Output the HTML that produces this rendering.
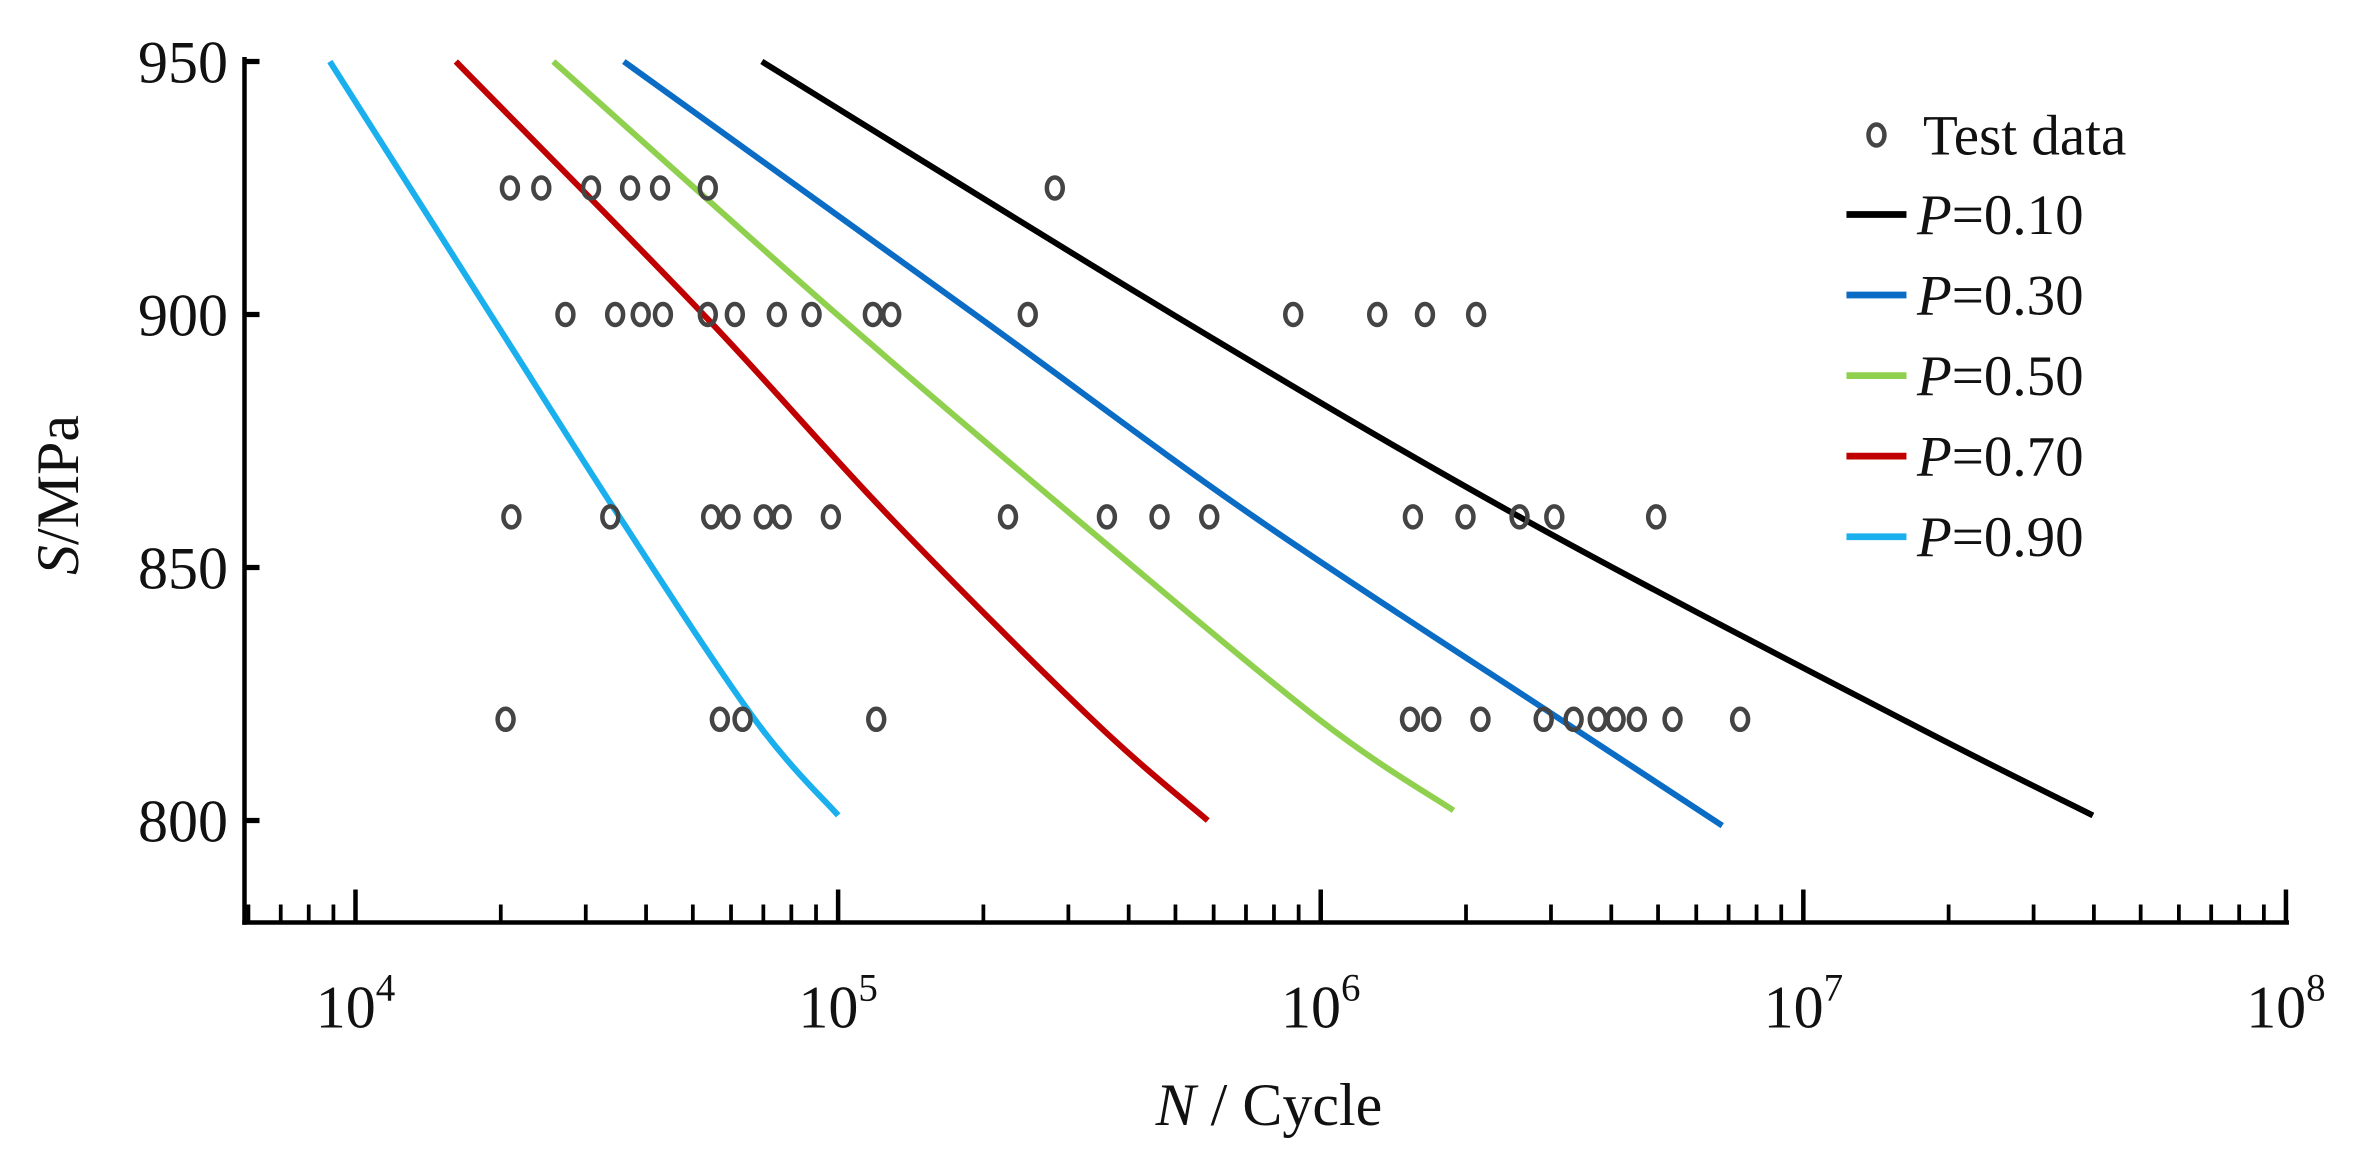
<!DOCTYPE html>
<html><head><meta charset="utf-8"><style>
html,body{margin:0;padding:0;background:#fff;}
svg{display:block;}
text{font-family:"Liberation Serif",serif;fill:#111;}
</style></head><body>
<svg id="chart" width="2368" height="1161" viewBox="0 0 1578.7 774" preserveAspectRatio="none" xmlns="http://www.w3.org/2000/svg">
<g id="axes"></g>
<g id="series"></g>
<g id="points"></g>
<g id="legend"></g>
</svg>
<script>
const xDecades = [4, 5, 6, 7, 8];
const yTicks = [800, 850, 900, 950];
const curveP10S = [950, 900, 860, 820, 801];
const curveP10 = [4.842, 5.694, 6.412, 7.205, 7.600];
const curveP30S = [950, 900, 860, 820, 799];
const curveP30 = [4.556, 5.284, 5.862, 6.496, 6.832];
const curveP50S = [950, 900, 860, 820, 802];
const curveP50 = [4.410, 4.998, 5.489, 5.996, 6.275];
const curveP70S = [950, 900, 860, 820, 800];
const curveP70 = [4.208, 4.721, 5.107, 5.526, 5.766];
const curveP90S = [950, 900, 860, 820, 801];
const curveP90 = [3.947, 4.280, 4.547, 4.827, 5.000];
const row925 = [4.320, 4.385, 4.488, 4.569, 4.631, 4.730, 5.449];
const row900 = [4.435, 4.538, 4.591, 4.637, 4.730, 4.786, 4.873, 4.945, 5.072, 5.110, 5.393, 5.943, 6.117, 6.216, 6.322];
const row860 = [4.323, 4.528, 4.737, 4.777, 4.846, 4.883, 4.985, 5.352, 5.557, 5.666, 5.769, 6.191, 6.300, 6.412, 6.484, 6.695];
const row820 = [4.311, 4.755, 4.802, 5.079, 6.185, 6.229, 6.331, 6.462, 6.524, 6.574, 6.611, 6.655, 6.729, 6.869];
const legendLabels = ["0.10", "0.30", "0.50", "0.70", "0.90"];
const colors = ["#000000", "#0a6cc4", "#8fd14f", "#c00000", "#1ab0ee"];

const NS = "http://www.w3.org/2000/svg";
const X0 = 163, X1 = 1524, LMIN = 3.77, LMAX = 8.0;
const Y950 = 41, Y800 = 547;
function xs(l){ return X0 + (l - LMIN) / (LMAX - LMIN) * (X1 - X0); }
function ys(s){ return Y800 + (s - 800) / 150 * (Y950 - Y800); }
function mk(tag, attrs, parent){ const e = document.createElementNS(NS, tag); for (const k in attrs) e.setAttribute(k, attrs[k]); parent.appendChild(e); return e; }
function smoothPath(p){
  let d = 'M' + p[0][0].toFixed(1) + ' ' + p[0][1].toFixed(1);
  for (let i = 0; i < p.length - 1; i++) {
    const a = p[Math.max(i - 1, 0)], b = p[i], c = p[i + 1], n = p[Math.min(i + 2, p.length - 1)];
    const c1x = b[0] + (c[0] - a[0]) / 6, c1y = b[1] + (c[1] - a[1]) / 6;
    const c2x = c[0] - (n[0] - b[0]) / 6, c2y = c[1] - (n[1] - b[1]) / 6;
    d += ' C' + c1x.toFixed(1) + ' ' + c1y.toFixed(1) + ' ' + c2x.toFixed(1) + ' ' + c2y.toFixed(1) + ' ' + c[0].toFixed(1) + ' ' + c[1].toFixed(1);
  }
  return d;
}

const axes = document.getElementById('axes');
const AXY = 615;
let e = mk('line', {x1:X0, y1:38, x2:X0, y2:AXY+1.5, stroke:'#000', 'stroke-width':3}, axes);


e = mk('line', {x1:X0-1.5, y1:AXY, x2:1526, y2:AXY, stroke:'#000', 'stroke-width':3}, axes);



for (let d = 3; d <= 8; d++) {
  for (let m = 1; m <= 9; m++) {
    const l = d + Math.log10(m);
    if (l < LMIN || l > LMAX + 0.001) continue;
    const x = xs(l);
    const major = m === 1;
    e = mk('line', {x1:x, y1:AXY, x2:x, y2:AXY - (major ? 22 : 12), stroke:'#000', 'stroke-width': major ? 3 : 2.5}, axes);
    
    
  }
}
xDecades.forEach(d => {
  const t = mk('text', {x:xs(d), y:685, 'text-anchor':'middle', 'font-size':40}, axes);
  t.textContent = '10';
  const sup = mk('tspan', {dy:-18, 'font-size':26}, t);
  sup.textContent = d;
  
  
});
yTicks.forEach(s => {
  const y = ys(s);
  e = mk('line', {x1:X0, y1:y, x2:X0 + 10, y2:y, stroke:'#000', 'stroke-width':3.5}, axes);
  
  
  const t = mk('text', {x:152, y:y + 14, 'text-anchor':'end', 'font-size':40}, axes);
  t.textContent = s;
  
  
});
let t = mk('text', {x:846, y:750, 'text-anchor':'middle', 'font-size':40}, axes);
t.innerHTML = '<tspan font-style="italic">N</tspan> / Cycle';


t = mk('text', {x:0, y:0, 'text-anchor':'middle', 'font-size':40, transform:'translate(52,330) rotate(-90)'}, axes);
t.innerHTML = '<tspan font-style="italic">S</tspan>/MPa';



const series = document.getElementById('series');
const curves = [[curveP10S, curveP10], [curveP30S, curveP30], [curveP50S, curveP50], [curveP70S, curveP70], [curveP90S, curveP90]];
curves.forEach((c, i) => {
  const pp = c[0].map((s, j) => [xs(c[1][j]), ys(s)]);
  const p = mk('path', {d:smoothPath(pp), fill:'none', stroke:colors[i], 'stroke-width':4, 'stroke-linejoin':'round'}, series);
  
  
});

const pts = document.getElementById('points');
[[925, row925], [900, row900], [860, row860], [820, row820]].forEach(r => {
  r[1].forEach(l => {
    const c = mk('ellipse', {cx:xs(l), cy:ys(r[0]), rx:5.3, ry:7, fill:'none', stroke:'#444', 'stroke-width':3}, pts);
    
    
  });
});

const lg = document.getElementById('legend');
e = mk('ellipse', {cx:1251, cy:90, rx:5.3, ry:7, fill:'none', stroke:'#444', 'stroke-width':3}, lg);


t = mk('text', {x:1282, y:103, 'font-size':38}, lg);
t.textContent = 'Test data';


legendLabels.forEach((lab, i) => {
  const y = 143 + i * 53.7;
  const l = mk('line', {x1:1231, y1:y, x2:1271, y2:y, stroke:colors[i], 'stroke-width':4.5}, lg);
  
  
  const tx = mk('text', {x:1278, y:y + 13, 'font-size':38}, lg);
  tx.innerHTML = '<tspan font-style="italic">P</tspan>=' + lab;
  
  
});
</script>
</body></html>
